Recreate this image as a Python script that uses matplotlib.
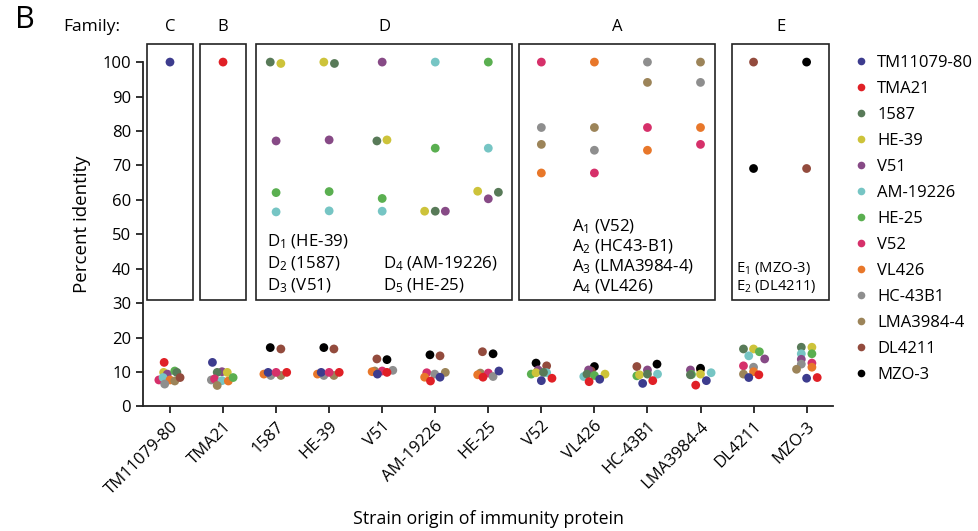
import matplotlib
matplotlib.use("Agg")
import matplotlib.pyplot as plt
from matplotlib.patches import Rectangle
from matplotlib.lines import Line2D

plt.rcParams['font.family'] = ['Open Sans', 'DejaVu Sans']
plt.rcParams['mathtext.default'] = 'regular'

strains = ["TM11079-80", "TMA21", "1587", "HE-39", "V51", "AM-19226", "HE-25",
           "V52", "VL426", "HC-43B1", "LMA3984-4", "DL4211", "MZO-3"]
colors = ["#3d3c8e", "#e02026", "#587a58", "#cdc33a", "#874a86", "#76c5c4", "#5aaf50",
          "#d6306a", "#e8772a", "#8e8e8e", "#9c8459", "#934b3d", "#000000"]

# family boxes: label, first column, last column
families = [("C", 0, 0), ("B", 1, 1), ("D", 2, 6), ("A", 7, 10), ("E", 11, 12)]
family_notes = {
    "D": [r"D$_1$ (HE-39)", r"D$_2$ (1587)", r"D$_3$ (V51)"],
    "D2": [r"D$_4$ (AM-19226)", r"D$_5$ (HE-25)"],
    "A": [r"A$_1$ (V52)", r"A$_2$ (HC43-B1)", r"A$_3$ (LMA3984-4)", r"A$_4$ (VL426)"],
    "E": [r"E$_1$ (MZO-3)", r"E$_2$ (DL4211)"],
}

# (column strain, colour strain, percent identity, jitter)
rows = [
    # TM11079-80
    ("TM11079-80", "TM11079-80", 100, 0),
    ("TM11079-80", "TMA21", 12.8, -0.11), ("TM11079-80", "HE-39", 9.9, -0.12),
    ("TM11079-80", "V51", 9.4, -0.05), ("TM11079-80", "HE-25", 10.3, 0.09),
    ("TM11079-80", "1587", 9.9, 0.13), ("TM11079-80", "V52", 7.7, -0.21),
    ("TM11079-80", "AM-19226", 8.4, -0.13), ("TM11079-80", "VL426", 7.7, 0.0),
    ("TM11079-80", "LMA3984-4", 7.4, 0.09), ("TM11079-80", "DL4211", 8.4, 0.19),
    ("TM11079-80", "HC-43B1", 6.5, -0.1),
    # TMA21
    ("TMA21", "TMA21", 100, 0),
    ("TMA21", "TM11079-80", 12.8, -0.2), ("TMA21", "V51", 10.1, -0.02),
    ("TMA21", "1587", 9.9, -0.11), ("TMA21", "HE-39", 9.9, 0.08),
    ("TMA21", "HC-43B1", 7.7, -0.22), ("TMA21", "V52", 8.0, -0.16),
    ("TMA21", "AM-19226", 7.5, -0.02), ("TMA21", "VL426", 7.4, 0.1),
    ("TMA21", "HE-25", 8.4, 0.19), ("TMA21", "LMA3984-4", 6.1, -0.11),
    # 1587
    ("1587", "1587", 100, -0.11), ("1587", "HE-39", 99.6, 0.09),
    ("1587", "V51", 77.1, 0), ("1587", "HE-25", 62.1, 0), ("1587", "AM-19226", 56.5, 0),
    ("1587", "MZO-3", 17.1, -0.11), ("1587", "DL4211", 16.7, 0.09),
    ("1587", "VL426", 9.4, -0.23), ("1587", "HC-43B1", 9.0, -0.1),
    ("1587", "LMA3984-4", 9.0, 0.09), ("1587", "TM11079-80", 9.9, -0.15),
    ("1587", "V52", 9.9, 0.0), ("1587", "TMA21", 9.9, 0.2),
    # HE-39
    ("HE-39", "HE-39", 100, -0.1), ("HE-39", "1587", 99.6, 0.1),
    ("HE-39", "V51", 77.4, 0), ("HE-39", "HE-25", 62.4, 0), ("HE-39", "AM-19226", 56.8, 0),
    ("HE-39", "MZO-3", 17.1, -0.1), ("HE-39", "DL4211", 16.7, 0.09),
    ("HE-39", "VL426", 9.4, -0.22), ("HE-39", "HC-43B1", 9.0, -0.1),
    ("HE-39", "LMA3984-4", 9.0, 0.09), ("HE-39", "TM11079-80", 9.9, -0.15),
    ("HE-39", "V52", 9.9, 0.0), ("HE-39", "TMA21", 9.9, 0.19),
    # V51
    ("V51", "V51", 100, 0), ("V51", "1587", 77.1, -0.1), ("V51", "HE-39", 77.4, 0.09),
    ("V51", "HE-25", 60.4, 0), ("V51", "AM-19226", 56.7, 0),
    ("V51", "DL4211", 13.8, -0.1), ("V51", "MZO-3", 13.6, 0.09),
    ("V51", "LMA3984-4", 10.3, -0.14), ("V51", "VL426", 10.1, -0.19),
    ("V51", "V52", 10.3, 0.0), ("V51", "HC-43B1", 10.5, 0.2),
    ("V51", "TMA21", 9.9, 0.09), ("V51", "TM11079-80", 9.4, -0.09),
    # AM-19226
    ("AM-19226", "AM-19226", 100, 0), ("AM-19226", "HE-25", 75.0, 0),
    ("AM-19226", "HE-39", 56.7, -0.2), ("AM-19226", "1587", 56.7, 0),
    ("AM-19226", "V51", 56.7, 0.19),
    ("AM-19226", "MZO-3", 15.0, -0.1), ("AM-19226", "DL4211", 14.7, 0.09),
    ("AM-19226", "V52", 9.8, -0.16), ("AM-19226", "VL426", 8.5, -0.2),
    ("AM-19226", "HC-43B1", 9.4, -0.01), ("AM-19226", "LMA3984-4", 9.9, 0.19),
    ("AM-19226", "TMA21", 7.4, -0.09), ("AM-19226", "TM11079-80", 8.5, 0.09),
    # HE-25
    ("HE-25", "HE-25", 100, 0), ("HE-25", "AM-19226", 75.0, 0),
    ("HE-25", "HE-39", 62.5, -0.2), ("HE-25", "1587", 62.2, 0.19), ("HE-25", "V51", 60.3, 0),
    ("HE-25", "DL4211", 15.9, -0.11), ("HE-25", "MZO-3", 15.3, 0.09),
    ("HE-25", "LMA3984-4", 9.7, -0.15), ("HE-25", "VL426", 9.2, -0.2),
    ("HE-25", "V52", 9.7, 0.0), ("HE-25", "HC-43B1", 8.7, 0.09),
    ("HE-25", "TMA21", 8.5, -0.1), ("HE-25", "TM11079-80", 10.3, 0.2),
    # V52
    ("V52", "V52", 100, 0), ("V52", "HC-43B1", 81.0, 0),
    ("V52", "LMA3984-4", 76.1, 0), ("V52", "VL426", 67.8, 0),
    ("V52", "MZO-3", 12.6, -0.1), ("V52", "DL4211", 11.8, 0.1),
    ("V52", "V51", 10.6, -0.06), ("V52", "HE-25", 9.4, -0.19),
    ("V52", "AM-19226", 9.8, 0.1), ("V52", "HE-39", 9.8, -0.1),
    ("V52", "1587", 9.9, 0.04), ("V52", "TM11079-80", 7.5, 0.0), ("V52", "TMA21", 8.2, 0.2),
    # VL426
    ("VL426", "VL426", 100, 0), ("VL426", "LMA3984-4", 81.0, 0),
    ("VL426", "HC-43B1", 74.4, 0), ("VL426", "V52", 67.8, 0),
    ("VL426", "MZO-3", 11.6, 0.0), ("VL426", "DL4211", 10.3, -0.06),
    ("VL426", "V51", 10.6, -0.11), ("VL426", "AM-19226", 8.7, -0.2),
    ("VL426", "1587", 9.4, -0.14), ("VL426", "HE-25", 9.0, 0.0),
    ("VL426", "HE-39", 9.4, 0.2), ("VL426", "TMA21", 7.2, -0.1), ("VL426", "TM11079-80", 7.9, 0.1),
    # HC-43B1
    ("HC-43B1", "HC-43B1", 100, 0), ("HC-43B1", "LMA3984-4", 94.1, 0),
    ("HC-43B1", "V52", 81.0, 0), ("HC-43B1", "VL426", 74.4, 0),
    ("HC-43B1", "MZO-3", 12.3, 0.18), ("HC-43B1", "DL4211", 11.6, -0.2),
    ("HC-43B1", "V51", 10.6, 0.0), ("HC-43B1", "HE-25", 8.9, -0.2),
    ("HC-43B1", "HE-39", 9.2, -0.15), ("HC-43B1", "1587", 9.4, 0.0),
    ("HC-43B1", "AM-19226", 9.4, 0.19), ("HC-43B1", "TM11079-80", 6.7, -0.09),
    ("HC-43B1", "TMA21", 7.5, 0.1),
    # LMA3984-4
    ("LMA3984-4", "LMA3984-4", 100, 0), ("LMA3984-4", "HC-43B1", 94.1, 0),
    ("LMA3984-4", "VL426", 81.0, 0), ("LMA3984-4", "V52", 76.1, 0),
    ("LMA3984-4", "DL4211", 10.7, 0.0), ("LMA3984-4", "MZO-3", 11.1, 0.0),
    ("LMA3984-4", "V51", 10.6, -0.19), ("LMA3984-4", "HE-25", 9.3, -0.17),
    ("LMA3984-4", "1587", 9.2, -0.19), ("LMA3984-4", "HE-39", 9.4, 0.0),
    ("LMA3984-4", "AM-19226", 9.8, 0.2), ("LMA3984-4", "TMA21", 6.2, -0.09),
    ("LMA3984-4", "TM11079-80", 7.5, 0.11),
    # DL4211
    ("DL4211", "DL4211", 100, 0), ("DL4211", "MZO-3", 69.1, 0),
    ("DL4211", "1587", 16.7, -0.19), ("DL4211", "HE-39", 16.7, 0.0),
    ("DL4211", "HE-25", 15.9, 0.11), ("DL4211", "AM-19226", 14.7, -0.09),
    ("DL4211", "V51", 13.8, 0.21), ("DL4211", "V52", 11.8, -0.19),
    ("DL4211", "HC-43B1", 11.4, 0.0), ("DL4211", "LMA3984-4", 9.4, -0.19),
    ("DL4211", "VL426", 10.1, 0.0), ("DL4211", "TM11079-80", 8.4, -0.09),
    ("DL4211", "TMA21", 9.2, 0.1),
    # MZO-3
    ("MZO-3", "MZO-3", 100, 0), ("MZO-3", "DL4211", 69.1, 0),
    ("MZO-3", "1587", 17.2, -0.1), ("MZO-3", "HE-39", 17.2, 0.1),
    ("MZO-3", "AM-19226", 15.3, -0.1), ("MZO-3", "HE-25", 15.3, 0.1),
    ("MZO-3", "V51", 13.7, -0.1), ("MZO-3", "HC-43B1", 12.3, -0.1),
    ("MZO-3", "V52", 12.6, 0.1), ("MZO-3", "VL426", 11.4, 0.1),
    ("MZO-3", "LMA3984-4", 10.8, -0.19), ("MZO-3", "TM11079-80", 8.2, 0.0),
    ("MZO-3", "TMA21", 8.4, 0.2),
]

fig = plt.figure(figsize=(9.79, 5.31), dpi=100)
ax = fig.add_axes([0.146, 0.2345, 0.705, 0.6875])

for col, hit, pct, jit in rows:
    ci = strains.index(col)
    hi = strains.index(hit)
    ax.scatter(ci + jit, pct, s=40, color=colors[hi], edgecolors='none',
               clip_on=False, zorder=3)

ax.set_xlim(-0.51, 12.5)
ax.set_ylim(0, 106)
ax.spines['left'].set_bounds(0, 100)
ax.spines['top'].set_visible(False)
ax.spines['right'].set_visible(False)
for s in ['left', 'bottom']:
    ax.spines[s].set_linewidth(1.3)
    ax.spines[s].set_color('#222222')
ax.set_yticks(range(0, 101, 10))
ax.set_xticks(range(len(strains)))
ax.set_xticklabels(strains, rotation=45, ha='right', rotation_mode='anchor')
ax.tick_params(axis='both', labelsize=12, length=5, width=1.3, color='#222222')
ax.set_ylabel("Percent identity", fontsize=13.5, labelpad=8)
ax.set_xlabel("Strain origin of immunity protein", fontsize=12.8, labelpad=9)

# family boxes
box_bottom, box_top = 30.8, 105.2
for name, a, b in families:
    x0, x1 = a - 0.43, b + 0.43
    if name == "D":
        x0, x1 = a - 0.38, b + 0.45
    if name == "A":
        x0, x1 = a - 0.42, b + 0.28
    if name == "E":
        x0, x1 = a - 0.4, b + 0.43
    ax.add_patch(Rectangle((x0, box_bottom), x1 - x0, box_top - box_bottom,
                           fill=False, lw=1.2, edgecolor='#222222', clip_on=False, zorder=2))
    ax.text((x0 + x1) / 2, 110.3, name, ha='center', va='center', fontsize=12,
            clip_on=False)

for i, t in enumerate(family_notes["D"]):
    ax.text(1.83, 47.8 - 6.4 * i, t, fontsize=12.2, va='center', ha='left')
for i, t in enumerate(family_notes["D2"]):
    ax.text(4.02, 41.4 - 6.4 * i, t, fontsize=12.2, va='center', ha='left')
for i, t in enumerate(family_notes["A"]):
    ax.text(7.57, 52.3 - 5.85 * i, t, fontsize=12.2, va='center', ha='left')
for i, t in enumerate(family_notes["E"]):
    ax.text(10.66, 40.0 - 5.3 * i, t, fontsize=10.6, va='center', ha='left')

fig.text(0.094, 0.949, "Family:", fontsize=12.5, ha='center', va='center')
fig.text(0.025, 0.962, "B", fontsize=22, ha='center', va='center')

handles = [Line2D([], [], marker='o', linestyle='none', markersize=5.5,
                  markerfacecolor=c, markeredgecolor='none') for c in colors]
fig.legend(handles, strains, loc='upper left', bbox_to_anchor=(0.873, 0.897),
           frameon=False, fontsize=12, handlelength=0.8, handletextpad=0.55,
           labelspacing=0.6, borderpad=0, borderaxespad=0)

fig.savefig("out.png", dpi=100)
